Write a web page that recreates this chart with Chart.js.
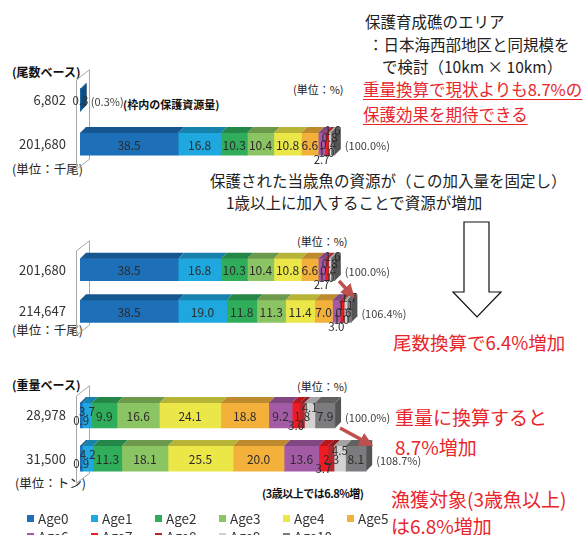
<!DOCTYPE html>
<html>
<head>
<meta charset="utf-8">
<script src="https://cdn.jsdelivr.net/npm/chart.js@4.4.1/dist/chart.umd.min.js"></script>
<style>
  body { margin: 0; background: #fff; width: 584px; height: 535px; overflow: hidden; position: relative;
         font-family: "Noto Sans CJK JP", sans-serif; color: #222; }
  .t { position: absolute; white-space: nowrap; line-height: 1; }
  .red { color: #e8262c; }
  .u { text-decoration: underline; text-decoration-thickness: 1px; text-underline-offset: 3px; }
  .b { font-weight: bold; color: #111; }
  canvas { position: absolute; left: 0; }
  .lg { position: absolute; font-size: 13.5px; line-height: 1; color: #333; white-space: nowrap; }
  .lg i { position: absolute; left: -11px; top: 3px; width: 7px; height: 7px; }
</style>
</head>
<body>

<!-- header notes -->
<div class="t" style="left:365px;top:14px;font-size:15.5px">保護育成礁のエリア</div>
<div class="t" style="left:368px;top:37px;font-size:15.5px">：日本海西部地区と同規模を</div>
<div class="t" style="left:382px;top:59px;font-size:15.5px">で検討（10km × 10km）</div>
<div class="t red u" style="left:363px;top:81px;font-size:16.5px">重量換算で現状よりも8.7%の</div>
<div class="t red u" style="left:363px;top:106px;font-size:16.5px">保護効果を期待できる</div>

<!-- panel 1 -->
<div class="t b" style="left:12px;top:66px;font-size:12px">(尾数ベース)</div>
<div class="t" style="left:293px;top:84px;font-size:11px">(単位：%)</div>
<div class="t b" style="left:123px;top:99px;font-size:11px">(枠内の保護資源量)</div>
<div class="t" style="left:12px;top:163px;font-size:12.5px">(単位：千尾)</div>

<!-- panel 2 -->
<div class="t" style="left:210px;top:173px;font-size:15.5px">保護された当歳魚の資源が（この加入量を固定し）</div>
<div class="t" style="left:226px;top:195px;font-size:15.5px">1歳以上に加入することで資源が増加</div>
<div class="t" style="left:297px;top:236px;font-size:11px">(単位：%)</div>
<div class="t" style="left:12px;top:324px;font-size:12.5px">(単位：千尾)</div>
<div class="t red" style="left:393px;top:333px;font-size:18.5px">尾数換算で6.4%増加</div>

<!-- panel 3 -->
<div class="t b" style="left:12px;top:379px;font-size:12px">(重量ベース)</div>
<div class="t" style="left:297px;top:381px;font-size:11px">(単位：%)</div>
<div class="t" style="left:15px;top:477px;font-size:12.5px">(単位：トン)</div>
<div class="t red" style="left:395px;top:407px;font-size:19px">重量に換算すると</div>
<div class="t red" style="left:395px;top:437px;font-size:19px">8.7%増加</div>
<div class="t b" style="left:262px;top:488px;font-size:11px;letter-spacing:-0.5px">(3歳以上では6.8%増)</div>
<div class="t red" style="left:391px;top:489px;font-size:19px">漁獲対象(3歳魚以上)</div>
<div class="t red" style="left:391px;top:516px;font-size:19px">は6.8%増加</div>

<canvas id="c1" width="584" height="132" style="top:56px"></canvas>
<canvas id="c2" width="584" height="127" style="top:227px"></canvas>
<canvas id="c3" width="584" height="130" style="top:372px"></canvas>

<svg width="584" height="535" style="position:absolute;left:0;top:0;pointer-events:none">
  <defs>
    <marker id="ah" markerWidth="4" markerHeight="4" refX="2" refY="2" orient="auto" markerUnits="strokeWidth">
      <path d="M0,0 L4,2 L0,4 z" fill="#c0504d"/>
    </marker>
  </defs>
  <line x1="339" y1="281" x2="350" y2="293" stroke="#c0504d" stroke-width="3.5" marker-end="url(#ah)"/>
  <line x1="340" y1="428" x2="367" y2="442.6" stroke="#c0504d" stroke-width="3.5" marker-end="url(#ah)"/>
  <polygon points="464,222 489,222 489,292 501,292 477,317 453,292 464,292" fill="#fff" stroke="#111" stroke-width="1.2"/>
</svg>

<div id="legend"></div>

<script>
// DATA
const ageNames = ["Age0", "Age1", "Age2", "Age3", "Age4", "Age5", "Age6", "Age7", "Age8", "Age9", "Age10"];
const ageColors = ["#1d6fb8", "#1fa7e0", "#30ad5b", "#8bc462", "#ebe748", "#f3b13b",
                   "#a45ba6", "#ed1c24", "#b3272d", "#d2d2d2", "#7c7c7e"];

// 尾数ベース (千尾, %)
const countRows = ["6,802", "201,680"];
const countInFrame = [0.3, 0, 0, 0, 0, 0, 0, 0, 0, 0, 0];
const countNow = [38.5, 16.8, 10.3, 10.4, 10.8, 6.6, 2.7, 1.0, 0.4, 0.8, 1.6];
const countTotals = ["(0.3%)", "(100.0%)"];

// 1歳以上に加入した場合
const addRows = ["201,680", "214,647"];
const countAfter = [38.5, 19.0, 11.8, 11.3, 11.4, 7.0, 3.0, 1.0, 0.6, 1.1, 1.7];
const addTotals = ["(100.0%)", "(106.4%)"];

// 重量ベース (トン, %)
const weightRows = ["28,978", "31,500"];
const weightNow = [0.9, 3.7, 9.9, 16.6, 24.1, 18.8, 9.2, 3.0, 1.8, 4.1, 7.9];
const weightAfter = [0.9, 4.2, 11.3, 18.1, 25.5, 20.0, 13.6, 3.7, 2.3, 4.5, 8.1];
const weightTotals = ["(100.0%)", "(108.7%)"];

const FONT = '"Noto Sans CJK JP", sans-serif';
const depth = 6;

const shade = (hex, f) => {
  const n = parseInt(hex.slice(1), 16);
  const r = Math.round(((n >> 16) & 255) * f);
  const g = Math.round(((n >> 8) & 255) * f);
  const b = Math.round((n & 255) * f);
  return `rgb(${r},${g},${b})`;
}

// fake 3D: back wall, top faces, end face, value labels, totals
const bar3d = {
  id: "bar3d",
  beforeDatasetsDraw(chart) {
    const ctx = chart.ctx, a = chart.chartArea;
    ctx.save();
    ctx.strokeStyle = "#a8a8a8";
    ctx.lineWidth = 1;
    ctx.beginPath();
    ctx.moveTo(a.left - 3.5, a.top + 2);
    ctx.lineTo(a.left + 9.5, a.top - 8);
    ctx.lineTo(a.left + 9.5, a.bottom - 7);
    ctx.lineTo(a.left - 3.5, a.bottom + 3);
    ctx.closePath();
    ctx.stroke();
    ctx.restore();
  },
  afterDatasetsDraw(chart, args, opts) {
    const ctx = chart.ctx;
    ctx.save();
    chart.data.labels.forEach((lab, r) => {
      const segs = [];
      chart.data.datasets.forEach((ds, i) => {
        const v = ds.data[r];
        if (!v) return;
        const el = chart.getDatasetMeta(i).data[r];
        const p = el.getProps(["x", "y", "base", "height"], true);
        segs.push({
          v, color: ds.backgroundColor,
          l: Math.min(p.x, p.base), rt: Math.max(p.x, p.base),
          top: p.y - p.height / 2, bottom: p.y + p.height / 2, cy: p.y
        });
      });
      if (!segs.length) return;
      // top faces
      segs.forEach(s => {
        ctx.fillStyle = shade(s.color, 0.78);
        ctx.beginPath();
        ctx.moveTo(s.l, s.top);
        ctx.lineTo(s.l + depth, s.top - depth);
        ctx.lineTo(s.rt + depth, s.top - depth);
        ctx.lineTo(s.rt, s.top);
        ctx.closePath();
        ctx.fill();
      });
      // end face
      const last = segs[segs.length - 1];
      ctx.fillStyle = shade(last.color, 0.68);
      ctx.beginPath();
      ctx.moveTo(last.rt, last.top);
      ctx.lineTo(last.rt + depth, last.top - depth);
      ctx.lineTo(last.rt + depth, last.bottom - depth);
      ctx.lineTo(last.rt, last.bottom);
      ctx.closePath();
      ctx.fill();

      // value labels, small ones stacked upward
      ctx.fillStyle = "#2b2b2b";
      ctx.textAlign = "center";
      ctx.textBaseline = "middle";
      let k = 0;
      while (k < segs.length) {
        if (segs[k].v >= 5) {
          const s = segs[k];
          ctx.font = `12px ${FONT}`;
          ctx.fillText(s.v.toFixed(1), (s.l + s.rt) / 2, s.cy + 1);
          k++;
          continue;
        }
        let e = k;
        while (e < segs.length && segs[e].v < 5) e++;
        const n = e - k;
        const step = n >= 4 ? 7.2 : 9;
        for (let j = 0; j < n; j++) {
          const s = segs[k + j];
          ctx.font = `11.5px ${FONT}`;
          ctx.fillText(s.v.toFixed(1), (s.l + s.rt) / 2, s.cy + 1 + (n - 1) / 2 * step - j * step);
        }
        k = e;
      }

      // total label
      ctx.fillStyle = "#404040";
      ctx.textAlign = "left";
      ctx.font = `11px ${FONT}`;
      ctx.fillText(opts.totals[r], last.rt + depth + 4, last.cy + 2);
    });
    ctx.restore();
  }
};

const makeChart = (id, rows, series, totals, thickness) => {
  const datasets = ageNames.map((name, i) => ({
    label: name,
    data: series.map(s => s[i]),
    backgroundColor: ageColors[i],
    borderWidth: 0,
    barThickness: thickness
  }));
  new Chart(id, {
    type: "bar",
    data: { labels: rows, datasets: datasets },
    plugins: [bar3d],
    options: {
      indexAxis: "y",
      responsive: false,
      animation: false,
      layout: { padding: { top: 20, bottom: 20, left: 0, right: 0 } },
      plugins: {
        legend: { display: false },
        tooltip: { enabled: false },
        bar3d: { totals: totals }
      },
      scales: {
        x: { stacked: true, min: 0, max: 197.6, display: false },
        y: {
          stacked: true,
          grid: { display: false, drawTicks: false },
          border: { display: false },
          ticks: { color: "#333", font: { family: FONT, size: 13 }, padding: 14 },
          afterFit: (axis) => { axis.width = 80; }
        }
      }
    }
  });
}

makeChart("c1", countRows, [countInFrame, countNow], countTotals, 22);
makeChart("c2", addRows, [countNow, countAfter], addTotals, 22);
makeChart("c3", weightRows, [weightNow, weightAfter], weightTotals, 25);

// legend
const legend = document.getElementById("legend");
ageNames.forEach((name, i) => {
  const row = i < 6 ? 0 : 1;
  const col = i < 6 ? i : i - 6;
  const d = document.createElement("div");
  d.className = "lg";
  d.style.left = (38 + col * 64) + "px";
  d.style.top = (512 + row * 18) + "px";
  d.innerHTML = `<i style="background:${ageColors[i]}"></i>${name}`;
  legend.appendChild(d);
});
</script>
</body>
</html>
